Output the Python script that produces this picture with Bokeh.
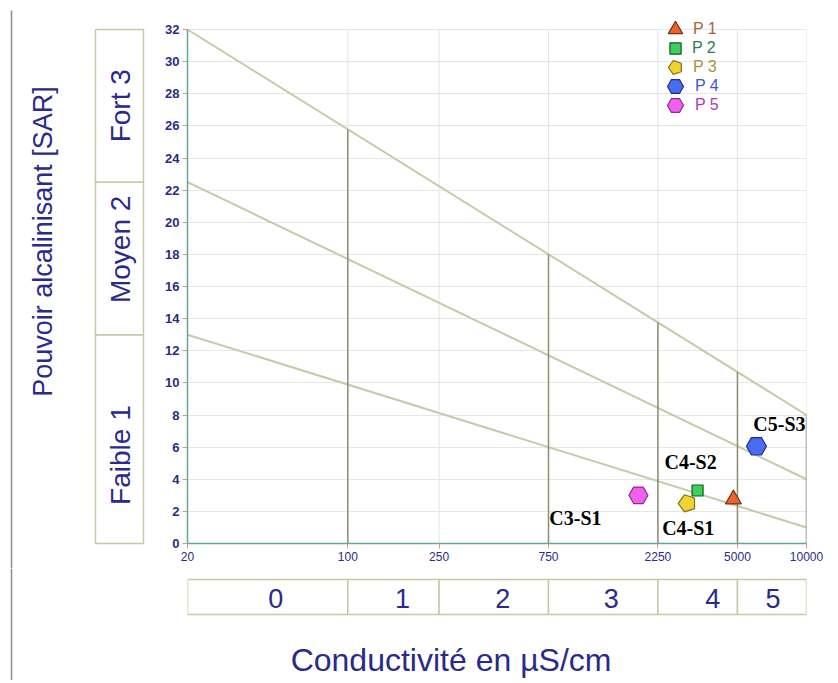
import math
from bokeh.plotting import figure
from bokeh.models import Range1d, FixedTicker, Legend, LegendItem, ColumnDataSource
from bokeh.layouts import column, row
from bokeh.embed import file_html
from bokeh.resources import INLINE
from bokeh.core.properties import value

# ---------------- data ----------------
ec_ticks = [20, 100, 250, 750, 2250, 5000, 10000]
sar_ticks = list(range(0, 33, 2))
salinity_classes = ["0", "1", "2", "3", "4", "5"]
sodium_classes = ["Faible 1", "Moyen 2", "Fort 3"]
sodium_bounds = [0, 13, 22.5, 32]

# boundary lines (SAR at EC = 20 and EC = 10000)
boundary_ec = [20, 10000]
boundary_s1 = [13, 1]
boundary_s2 = [22.5, 4]
boundary_s3 = [32, 8]
separator_ec = [100, 750, 2250, 5000, 10000]

point_names = ["P 1", "P 2", "P 3", "P 4", "P 5"]
point_ec = [4800, 3350, 3020, 6050, 1850]
point_sar = [2.75, 3.3, 2.5, 6.05, 3.0]
point_class = ["", "C4-S2", "C4-S1", "C5-S3", "C3-S1"]

# ---------------- styles / layout ----------------
NAVY = "#2a2a8c"
LEFT_W = 147
BL, FW, BR = 40, 619, 20
PLOT_TOP = 29          # pixel row of SAR = 32
BT = 5                 # frame top
BB = 25
SAR_H = 514            # pixels for 0..32
ppu = SAR_H / 32.0
FH = SAR_H + (PLOT_TOP - BT)
Y_MAX = 32 + (PLOT_TOP - BT) / ppu
BOT_H = 112

markers = ["triangle", "square", "pentagon", "hex", "hex"]
sizes = [16, 11, 9, 20, 19]
fills = ["#e8642a", "#3fcf5c", "#f2d232", "#4a6cf0", "#f060ee"]
lines = ["#7a3010", "#145a26", "#857212", "#1c2c96", "#902690"]
txtcol = ["#a8663a", "#2e7a55", "#a89238", "#3a5ad8", "#b038b8"]
leg_box = [36, 28, 36, 40, 40]
lab_dx = [0, -7, 1, 23, -63]
lab_dy = [0, -28, 25, -22, 23]
sodium_dy = [16, -9, 0]
salinity_dx = [8, 9, 9, 8, 15, 1]


def make_fig(**kw):
    f = figure(output_backend="svg", toolbar_location=None, title=None, **kw)
    f.outline_line_color = None
    f.background_fill_color = "white"
    f.border_fill_color = "white"
    return f


# ---------------- main figure ----------------
p = make_fig(x_axis_type="log", x_range=Range1d(ec_ticks[0], ec_ticks[-1]),
             y_range=Range1d(0, Y_MAX), frame_width=FW, frame_height=FH,
             min_border_left=BL, min_border_right=BR, min_border_top=BT,
             min_border_bottom=BB)

p.xaxis.ticker = FixedTicker(ticks=ec_ticks)
p.xaxis.major_label_overrides = {t: str(t) for t in ec_ticks}
p.yaxis.ticker = FixedTicker(ticks=sar_ticks)
p.yaxis.bounds = (0, 32)
p.xgrid.visible = False
p.ygrid.ticker = FixedTicker(ticks=sar_ticks)
p.ygrid.grid_line_color = "#e6e6e6"
p.ygrid.grid_line_width = 1
for ax in (p.xaxis, p.yaxis):
    ax.axis_line_color = "#5ea89c"
    ax.axis_line_width = 1.5
    ax.major_tick_line_color = "#e09090"
    ax.major_tick_in = 0
    ax.major_tick_out = 5
    ax.minor_tick_line_color = None
    ax.major_label_text_color = NAVY
    ax.major_label_text_font = "Liberation Sans"
    ax.major_label_standoff = 3
p.yaxis.major_label_text_font_size = "13px"
p.yaxis.major_label_text_font_style = "bold"
p.xaxis.major_label_text_font_size = "12px"

# vertical grid lines limited to 0..32
p.segment(x0=ec_ticks[1:], y0=[0] * (len(ec_ticks) - 1), x1=ec_ticks[1:],
          y1=[sar_ticks[-1]] * (len(ec_ticks) - 1), line_color="#e3e3e3", line_width=1)

# boundary lines
for b in (boundary_s1, boundary_s2, boundary_s3):
    p.line(boundary_ec, b, line_color="#c9c9a9", line_width=2)

# vertical separators up to the upper boundary
l0, l1 = math.log10(boundary_ec[0]), math.log10(boundary_ec[1])
sep_top = [boundary_s3[0] + (boundary_s3[1] - boundary_s3[0]) * (math.log10(e) - l0) / (l1 - l0)
           for e in separator_ec]
p.segment(x0=separator_ec, y0=[0] * len(separator_ec), x1=separator_ec, y1=sep_top,
          line_color="#8c8c74", line_width=1.5)

# points
renderers = []
for i in range(len(point_names)):
    if markers[i] == "pentagon" and hasattr(p, "ngon"):
        r = p.ngon(x=[point_ec[i]], y=[point_sar[i]], radius=sizes[i], radius_units="screen",
                   n=5, angle=math.pi / 2, fill_color=fills[i], line_color=lines[i], line_width=1.2)
    else:
        m = "hex" if markers[i] == "pentagon" else markers[i]
        r = p.scatter(x=[point_ec[i]], y=[point_sar[i]], marker=m,
                      size=sizes[i] * (2 if markers[i] == "pentagon" else 1),
                      fill_color=fills[i], line_color=lines[i], line_width=1.2)
    renderers.append(r)

lab_src = ColumnDataSource(dict(x=[e for e, c in zip(point_ec, point_class) if c],
                                y=[s for s, c in zip(point_sar, point_class) if c],
                                t=[c for c in point_class if c],
                                dx=[d for d, c in zip(lab_dx, point_class) if c],
                                dy=[d for d, c in zip(lab_dy, point_class) if c]))
p.text(x="x", y="y", text="t", x_offset="dx", y_offset="dy", source=lab_src,
       text_font=value("Liberation Serif"), text_font_style="bold", text_font_size="20px",
       text_color="black", text_align="center", text_baseline="middle")

# legends (one per entry so each label gets its own colour)
LEG_CX, LEG_CY0, LEG_DY, LEG_TXT = 675, 29, 19, 692
frame_left = LEFT_W + BL
frame_bottom = BT + FH
for i in range(len(point_names)):
    gb = leg_box[i]
    cy = frame_bottom - (LEG_CY0 + LEG_DY * i)
    lg = Legend(items=[LegendItem(label=point_names[i], renderers=[renderers[i]])],
                location=(LEG_CX - gb / 2 - frame_left, cy - gb / 2),
                padding=0, margin=0, spacing=0,
                glyph_width=gb, glyph_height=gb,
                label_standoff=max(0, int(LEG_TXT - LEG_CX - gb / 2)),
                label_text_color=txtcol[i], label_text_font="Liberation Sans",
                label_text_font_size="16px", label_height=14,
                border_line_color=None, background_fill_alpha=0)
    p.add_layout(lg)

# ---------------- left figure (SAR classes) ----------------
left = make_fig(x_range=Range1d(0, LEFT_W), y_range=Range1d(-BB / ppu, Y_MAX),
                frame_width=LEFT_W, frame_height=FH + BB, min_border_left=0,
                min_border_right=0, min_border_top=BT, min_border_bottom=0,
                x_axis_location=None, y_axis_location=None)
left.grid.visible = False
left.quad(left=95, right=143, bottom=sodium_bounds[:-1], top=sodium_bounds[1:],
          fill_color="white", line_color="#c8c8a4", line_width=1.5)
left.text(x=[120] * 3, y=[(a + b) / 2 for a, b in zip(sodium_bounds[:-1], sodium_bounds[1:])],
          text=sodium_classes, angle=math.pi / 2, y_offset=sodium_dy,
          text_align="center", text_baseline="middle",
          text_font=value("Liberation Sans"), text_font_size="28px", text_color=NAVY)
left.text(x=[42], y=[18.8], text=["Pouvoir alcalinisant [SAR]"], angle=math.pi / 2,
          text_align="center", text_baseline="middle",
          text_font=value("Liberation Sans"), text_font_size="27px", text_color=NAVY)
left.segment(x0=[11], y0=[-BB / ppu], x1=[11], y1=[32 + (PLOT_TOP - 10) / ppu],
             line_color="#8a8a8a", line_width=1.5)

# ---------------- bottom figures (salinity classes) ----------------
bl = make_fig(x_range=Range1d(0, LEFT_W + BL), y_range=Range1d(BOT_H, 0),
              frame_width=LEFT_W + BL, frame_height=BOT_H, min_border=0,
              x_axis_location=None, y_axis_location=None)
bl.grid.visible = False
bl.segment(x0=[11], y0=[0], x1=[11], y1=[BOT_H], line_color="#8a8a8a", line_width=1.5)

bot = make_fig(x_axis_type="log", x_range=p.x_range, y_range=Range1d(BOT_H, 0),
               frame_width=FW, frame_height=BOT_H, min_border_left=0, min_border_right=BR,
               min_border_top=0, min_border_bottom=0,
               x_axis_location=None, y_axis_location=None)
bot.grid.visible = False
bot.quad(left=ec_ticks[:-1], right=ec_ticks[1:], top=11, bottom=46,
         fill_color="white", line_color="#c8c8a4", line_width=1.5)
centers = [math.sqrt(a * b) for a, b in zip(ec_ticks[:-1], ec_ticks[1:])]
bot.text(x=centers, y=[30] * len(centers), text=salinity_classes, x_offset=salinity_dx,
         text_align="center", text_baseline="middle",
         text_font=value("Liberation Sans"), text_font_size="27px", text_color=NAVY)
bot.text(x=[282], y=[91], text=["Conductivité en µS/cm"], text_align="center",
         text_baseline="middle", text_font=value("Liberation Sans"),
         text_font_size="32px", text_color=NAVY)

layout = column(row(left, p), row(bl, bot))
open("out.html", "w").write(file_html(layout, INLINE))
